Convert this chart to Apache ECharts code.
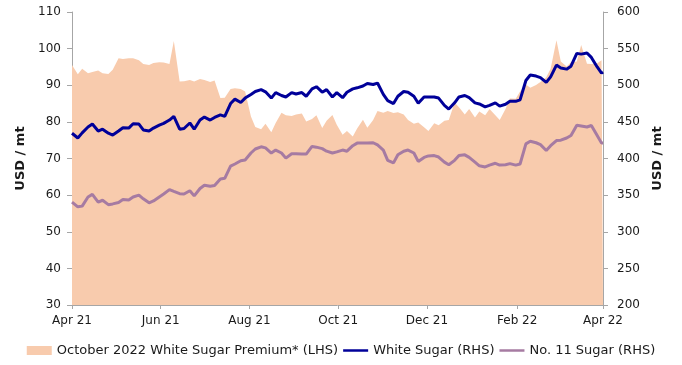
<!DOCTYPE html>
<html>
<head>
<meta charset="utf-8">
<script src="https://cdn.jsdelivr.net/npm/echarts@6/dist/echarts.min.js"></script>
<style>
  html, body { margin: 0; padding: 0; background: #ffffff; }
  #chart { width: 682px; height: 365px; }
</style>
</head>
<body>
<div id="chart"></div>
<script>
// Trading dates (twice-weekly sampling)
var dates = [
  '2021-04-01','2021-04-05','2021-04-08','2021-04-12','2021-04-15','2021-04-19','2021-04-22','2021-04-26','2021-04-29',
  '2021-05-03','2021-05-06','2021-05-10','2021-05-13','2021-05-17','2021-05-20','2021-05-24','2021-05-27','2021-05-31',
  '2021-06-03','2021-06-07','2021-06-10','2021-06-14','2021-06-17','2021-06-21','2021-06-24','2021-06-28',
  '2021-07-01','2021-07-05','2021-07-08','2021-07-12','2021-07-15','2021-07-19','2021-07-22','2021-07-26','2021-07-29',
  '2021-08-02','2021-08-05','2021-08-09','2021-08-12','2021-08-16','2021-08-19','2021-08-23','2021-08-26','2021-08-30',
  '2021-09-02','2021-09-06','2021-09-09','2021-09-13','2021-09-16','2021-09-20','2021-09-23','2021-09-27','2021-09-30',
  '2021-10-04','2021-10-07','2021-10-11','2021-10-14','2021-10-18','2021-10-21','2021-10-25','2021-10-28',
  '2021-11-01','2021-11-04','2021-11-08','2021-11-11','2021-11-15','2021-11-18','2021-11-22','2021-11-25','2021-11-29',
  '2021-12-02','2021-12-06','2021-12-09','2021-12-13','2021-12-16','2021-12-20','2021-12-23','2021-12-27','2021-12-30',
  '2022-01-03','2022-01-06','2022-01-10','2022-01-13','2022-01-17','2022-01-20','2022-01-24','2022-01-27','2022-01-31',
  '2022-02-03','2022-02-07','2022-02-10','2022-02-14','2022-02-17','2022-02-21','2022-02-24','2022-02-28',
  '2022-03-03','2022-03-07','2022-03-10','2022-03-14','2022-03-17','2022-03-21','2022-03-24','2022-03-28','2022-03-31',
  '2022-04-01'
];

// October 2022 white sugar premium, USD/mt (left axis)
var premium = [
  95.5, 93.0, 94.5, 93.3, 93.6, 94.0, 93.3, 93.1, 94.2,
  97.4, 97.2, 97.4, 97.4, 96.8, 95.8, 95.5, 96.1, 96.3,
  96.2, 95.8, 102.1, 91.0, 91.1, 91.4, 91.0, 91.7,
  91.4, 90.9, 91.3, 86.5, 86.6, 89.0, 89.2, 89.0, 88.3,
  81.5, 78.6, 78.0, 79.5, 77.2, 79.7, 82.5, 81.8, 81.6,
  82.0, 82.3, 80.1, 80.8, 81.8, 78.3, 80.3, 81.9, 79.2,
  76.5, 77.5, 76.0, 78.2, 80.6, 78.4, 80.5, 83.0,
  82.5, 83.0, 82.4, 82.6, 82.0, 80.5, 79.5, 79.8, 78.5,
  77.5, 79.6, 79.1, 80.3, 80.5, 85.3, 84.0, 82.0, 83.5,
  81.2, 82.8, 81.8, 83.5, 81.8, 80.5, 83.5, 86.4, 86.3,
  88.3, 90.2, 89.3, 90.1, 90.9, 92.2, 94.5, 102.3,
  96.5, 95.1, 96.3, 96.5, 101.0, 95.9, 95.8, 96.0, 96.8,
  97.0
];

// White sugar price, USD/mt (right axis)
var whiteSugar = [
  434.5, 428, 435, 443, 447, 437.5, 440, 434.5, 432,
  437.5, 442, 441.5, 447.5, 447, 439, 437.5, 441.5, 445.5,
  448, 452.5, 457.5, 440, 441, 448.5, 440, 452.5,
  456.5, 452.5, 456, 459.5, 457.5, 475, 481, 476.5, 482.5,
  487.5, 491.5, 494, 491, 482.5, 490, 486, 484, 490,
  488, 490, 485, 495, 498, 490.5, 494, 484, 490,
  483, 490.5, 495, 496.5, 499, 502.5, 501, 503,
  487.5, 479, 475, 485, 491.5, 490.5, 485, 475.5, 484,
  484, 484, 482.5, 472.5, 467.5, 476, 484, 486, 483,
  476, 474.5, 470.5, 472.5, 476, 471.5, 474, 478, 478,
  480, 506.5, 514, 512.5, 510.5, 504, 511.5, 527.5,
  523.5, 522, 526, 543.5, 542.5, 544, 538, 525, 516.5,
  518
];

// No. 11 raw sugar price, USD/mt (right axis)
var no11Sugar = [
  340.5, 334, 335, 347.5, 351, 340.5, 343, 337, 338,
  340, 344, 343.5, 347.5, 350, 345, 339.5, 342, 347.5,
  351.5, 357.5, 355, 352, 351.5, 356, 349, 359,
  363.5, 362, 363, 372, 373, 389.5, 392.5, 397, 398,
  407.5, 413, 416, 414.5, 407.5, 411.5, 407.5, 400.5, 406.5,
  406.5, 406, 406, 416.5, 415.5, 413.5, 410, 407.5, 409,
  411.5, 410, 417.5, 421, 421, 421, 421.5, 418.5,
  411.5, 397.5, 394, 405, 410, 411.5, 407.5, 396, 401.5,
  403.5, 404, 402, 395, 391.5, 397.5, 404, 405, 401.5,
  395, 390, 388.5, 391, 393.5, 391, 391.5, 393, 391,
  392.5, 420, 423.5, 421.5, 419, 411, 417.5, 424.5,
  425, 428, 431.5, 445.5, 444.5, 443, 445, 431.5, 421,
  421
];

// Bimonthly axis ticks
var tickDates = ['2021-04-01', '2021-06-01', '2021-08-01', '2021-10-01', '2021-12-01', '2022-02-01', '2022-04-01'];
var tickLabels = ['Apr 21', 'Jun 21', 'Aug 21', 'Oct 21', 'Dec 21', 'Feb 22', 'Apr 22'];

var seriesNames = ['October 2022 White Sugar Premium* (LHS)', 'White Sugar (RHS)', 'No. 11 Sugar (RHS)'];

// Dates are placed on a numeric (epoch-ms) axis so tick positions can be pinned to month starts.
function toTime(s) {
  var p = s.split('-');
  return Date.UTC(+p[0], +p[1] - 1, +p[2]);
}
var tickTimes = tickDates.map(toTime);

function pairs(vals) {
  return dates.map(function (d, i) { return [toTime(d), vals[i]]; });
}

var FONT = 'DejaVu Sans, Verdana, sans-serif';
var AXIS_GREY = '#a6a6a6';
var TEXT = '#1a1a1a';
var PEACH = '#f8cbad';
var NAVY = '#000099';
var MAUVE = '#a67ba2';
// flat bar used as the legend marker of the two line series
var LINE_ICON = 'path://M0,0H30V3H0Z';

var chart = echarts.init(document.getElementById('chart'), null, { renderer: 'canvas' });

chart.setOption({
  animation: false,
  backgroundColor: '#ffffff',
  textStyle: { fontFamily: FONT },
  grid: { left: 72, right: 79, top: 12, bottom: 60, containLabel: false },
  legend: {
    bottom: 3,
    left: 'center',
    itemWidth: 25,
    itemHeight: 9,
    itemGap: 5,
    symbolKeepAspect: true,
    textStyle: { fontFamily: FONT, fontSize: 13, color: TEXT },
    data: [
      { name: seriesNames[0], icon: 'rect', itemStyle: { color: PEACH } },
      { name: seriesNames[1], icon: LINE_ICON, itemStyle: { color: NAVY } },
      { name: seriesNames[2], icon: LINE_ICON, itemStyle: { color: MAUVE } }
    ]
  },
  xAxis: {
    type: 'value',
    min: tickTimes[0],
    max: tickTimes[tickTimes.length - 1],
    axisLine: { show: true, onZero: false, lineStyle: { color: AXIS_GREY, width: 1 } },
    axisTick: { show: true, inside: false, length: 4, lineStyle: { color: AXIS_GREY }, customValues: tickTimes },
    splitLine: { show: false },
    axisLabel: {
      customValues: tickTimes,
      margin: 10,
      fontFamily: FONT,
      fontSize: 12,
      color: TEXT,
      showMinLabel: true,
      showMaxLabel: true,
      formatter: function (v) {
        var i = tickTimes.indexOf(v);
        return i >= 0 ? tickLabels[i] : '';
      }
    }
  },
  yAxis: [
    {
      type: 'value',
      position: 'left',
      min: 30,
      max: 110,
      interval: 10,
      name: 'USD / mt',
      nameLocation: 'middle',
      nameRotate: 90,
      nameGap: 37,
      nameTextStyle: { fontFamily: FONT, fontSize: 13, fontWeight: 'bold', color: TEXT },
      axisLine: { show: true, lineStyle: { color: AXIS_GREY, width: 1 } },
      axisTick: { show: true, inside: false, length: 5, lineStyle: { color: AXIS_GREY } },
      splitLine: { show: false },
      axisLabel: { margin: 11, fontFamily: FONT, fontSize: 12, color: TEXT }
    },
    {
      type: 'value',
      position: 'right',
      min: 200,
      max: 600,
      interval: 50,
      name: 'USD / mt',
      nameLocation: 'middle',
      nameRotate: 90,
      nameGap: 40,
      nameTextStyle: { fontFamily: FONT, fontSize: 13, fontWeight: 'bold', color: TEXT },
      axisLine: { show: true, lineStyle: { color: AXIS_GREY, width: 1 } },
      axisTick: { show: true, inside: false, length: 5, lineStyle: { color: AXIS_GREY } },
      splitLine: { show: false },
      axisLabel: { margin: 14, fontFamily: FONT, fontSize: 12, color: TEXT }
    }
  ],
  series: [
    {
      name: seriesNames[0],
      type: 'line',
      yAxisIndex: 0,
      data: pairs(premium),
      symbol: 'none',
      lineStyle: { width: 0, color: PEACH },
      itemStyle: { color: PEACH },
      areaStyle: { color: PEACH, opacity: 1 },
      z: 1
    },
    {
      name: seriesNames[1],
      type: 'line',
      yAxisIndex: 1,
      data: pairs(whiteSugar),
      symbol: 'none',
      lineStyle: { width: 3, color: NAVY },
      itemStyle: { color: NAVY },
      z: 3
    },
    {
      name: seriesNames[2],
      type: 'line',
      yAxisIndex: 1,
      data: pairs(no11Sugar),
      symbol: 'none',
      lineStyle: { width: 3, color: MAUVE },
      itemStyle: { color: MAUVE },
      z: 2
    }
  ]
});
</script>
</body>
</html>
